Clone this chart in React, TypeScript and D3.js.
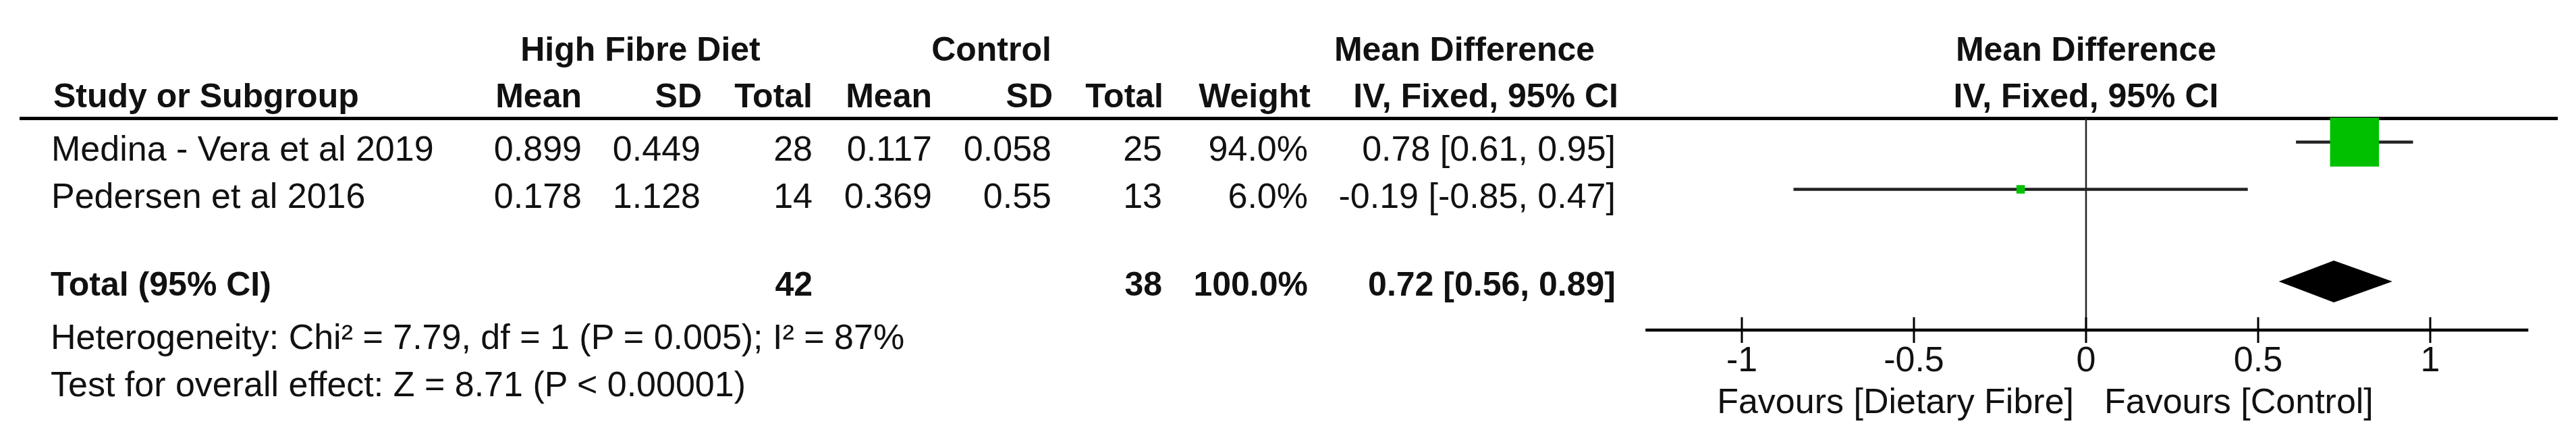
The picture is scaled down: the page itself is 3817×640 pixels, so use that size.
import React from 'react';
import * as d3 from 'd3';

// study rows
const studies = ['Medina - Vera et al 2019', 'Pedersen et al 2016'];
const fibreMean = ['0.899', '0.178'];
const fibreSD = ['0.449', '1.128'];
const fibreTotal = [28, 14];
const controlMean = ['0.117', '0.369'];
const controlSD = ['0.058', '0.55'];
const controlTotal = [25, 13];
const weights = [94.0, 6.0];
const md = [0.78, -0.19];
const mdLow = [0.61, -0.85];
const mdHigh = [0.95, 0.47];

// pooled
const pooled = { md: 0.72, low: 0.56, high: 0.89, fibreN: 42, controlN: 38, weight: 100.0 };
const heterogeneity = 'Heterogeneity: Chi² = 7.79, df = 1 (P = 0.005); I² = 87%';
const overallEffect = 'Test for overall effect: Z = 8.71 (P < 0.00001)';

const tickValues = [-1, -0.5, 0, 0.5, 1];
const axisExtent = [-1.28, 1.285];
const favoursLeft = 'Favours [Dietary Fibre]';
const favoursRight = 'Favours [Control]';

const W = 3817;
const H = 640;
const FONT = '"Liberation Sans", Arial, sans-serif';
const GREEN = '#00c000';
const INK = '#111';

const fmtPct = (v: number) => v.toFixed(1) + '%';
const fmtCI = (m: number, l: number, h: number) =>
  `${m.toFixed(2)} [${l.toFixed(2)}, ${h.toFixed(2)}]`;

export default function App() {
  const x = d3.scaleLinear().domain([-1, 1]).range([2581, 3601]);
  const box = d3.scaleLinear().domain([6, 94]).range([12.5, 72.5]);

  // right edges of the table columns
  const col = {
    fMean: 862, fSD: 1038, fTot: 1204,
    cMean: 1381, cSD: 1558, cTot: 1722,
    weight: 1938, ci: 2394,
  };
  const rowY = [238, 308];
  const totalY = 438;
  const axisY = 489;
  const topLine = 175.5;

  const txt = (s: string | number, xx: number, yy: number, anchor = 'end', bold = false, key?: string) => (
    <text key={key} x={xx} y={yy} textAnchor={anchor} fontWeight={bold ? 'bold' : 'normal'}
      fontSize={bold ? 50 : 52} fill={INK}>{s}</text>
  );

  return (
    <svg width={W} height={H} style={{ position: 'absolute', left: 0, top: 0, background: '#fff' }}
      fontFamily={FONT}>
      <rect width={W} height={H} fill="#fff" />

      {/* group headers */}
      {txt('High Fibre Diet', 949, 90, 'middle', true)}
      {txt('Control', 1469, 90, 'middle', true)}
      {txt('Mean Difference', 2170, 90, 'middle', true)}
      {txt('Mean Difference', x(0), 90, 'middle', true)}

      {/* column headers */}
      {txt('Study or Subgroup', 79, 159, 'start', true)}
      {txt('Mean', col.fMean, 159, 'end', true)}
      {txt('SD', col.fSD + 2, 159, 'end', true)}
      {txt('Total', col.fTot, 159, 'end', true)}
      {txt('Mean', col.cMean, 159, 'end', true)}
      {txt('SD', col.cSD + 2, 159, 'end', true)}
      {txt('Total', col.cTot + 2, 159, 'end', true)}
      {txt('Weight', col.weight + 4, 159, 'end', true)}
      {txt('IV, Fixed, 95% CI', col.ci + 4, 159, 'end', true)}
      {txt('IV, Fixed, 95% CI', x(0), 159, 'middle', true)}

      <line x1={29} x2={3790} y1={topLine} y2={topLine} stroke="#000" strokeWidth={5} />

      {/* study rows */}
      {studies.map((s, i) => (
        <g key={s}>
          {txt(s, 76, rowY[i], 'start')}
          {txt(fibreMean[i], col.fMean, rowY[i])}
          {txt(fibreSD[i], col.fSD, rowY[i])}
          {txt(fibreTotal[i], col.fTot, rowY[i])}
          {txt(controlMean[i], col.cMean, rowY[i])}
          {txt(controlSD[i], col.cSD, rowY[i])}
          {txt(controlTotal[i], col.cTot, rowY[i])}
          {txt(fmtPct(weights[i]), col.weight, rowY[i])}
          {txt(fmtCI(md[i], mdLow[i], mdHigh[i]), col.ci, rowY[i])}
        </g>
      ))}

      {/* total row */}
      {txt('Total (95% CI)', 75, totalY, 'start', true)}
      {txt(pooled.fibreN, col.fTot, totalY, 'end', true)}
      {txt(pooled.controlN, col.cTot, totalY, 'end', true)}
      {txt(fmtPct(pooled.weight), col.weight, totalY, 'end', true)}
      {txt(fmtCI(pooled.md, pooled.low, pooled.high), col.ci, totalY, 'end', true)}

      {txt(heterogeneity, 75, 517, 'start')}
      {txt(overallEffect, 75, 587, 'start')}

      {/* zero line */}
      <line x1={x(0)} x2={x(0)} y1={topLine} y2={axisY} stroke="#222" strokeWidth={2.5} />

      {/* study markers */}
      {studies.map((s, i) => {
        const cy = rowY[i] - 27.5;
        const sz = box(weights[i]);
        return (
          <g key={'m' + s}>
            <line x1={x(mdLow[i])} x2={x(mdHigh[i])} y1={cy} y2={cy} stroke="#222" strokeWidth={4.5} />
            <rect x={x(md[i]) - sz / 2} y={cy - sz / 2} width={sz} height={sz} fill={GREEN} />
          </g>
        );
      })}

      {/* pooled diamond */}
      <path
        d={`M${x(pooled.low)},${totalY - 21} L${x(pooled.md)},${totalY - 52} L${x(pooled.high)},${totalY - 21} L${x(pooled.md)},${totalY + 10} Z`}
        fill="#000"
      />

      {/* axis */}
      <line x1={x(axisExtent[0])} x2={x(axisExtent[1])} y1={axisY} y2={axisY} stroke="#000" strokeWidth={4.5} />
      {tickValues.map((t) => (
        <g key={'t' + t}>
          <line x1={x(t)} x2={x(t)} y1={axisY - 19} y2={axisY + 19} stroke="#000" strokeWidth={3} />
          {txt(String(t), x(t), 550, 'middle')}
        </g>
      ))}
      {txt(favoursLeft, x(0) - 18, 612, 'end')}
      {txt(favoursRight, x(0) + 27, 612, 'start')}
    </svg>
  );
}
